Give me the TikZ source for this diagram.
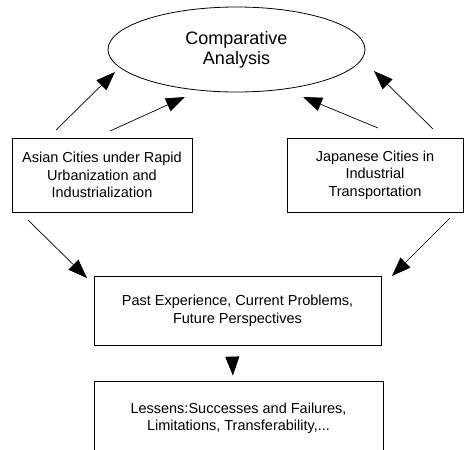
\documentclass[tikz,border=0pt]{standalone}
\usepackage{fontspec}
\setmainfont{Liberation Sans}
\usetikzlibrary{arrows.meta,shapes.geometric}
\begin{document}
\begin{tikzpicture}[x=1pt, y=-1pt,
		box/.style = {draw, line width=0.8pt, minimum height=74pt, inner sep=0pt, align=center, font=\fontsize{14.5}{17.5}\selectfont},
		oval/.style = {draw, ellipse, line width=0.8pt, minimum width=257pt, minimum height=85pt, inner sep=0pt, align=center, font=\fontsize{18}{20}\selectfont},
		arr/.style = {line width=0.7pt, -{Triangle[length=19pt, width=14pt]}}]
			\useasboundingbox (0,0) rectangle (464,450);
			\node[oval] (comp) at (236.5,49.5) {Comparative\\Analysis};
			\node[box, minimum width=180pt] (asian) at (102,175) {Asian Cities under Rapid\\Urbanization and\\Industrialization};
			\node[box, minimum width=176pt] (japan) at (375,175) {Japanese Cities in\\Industrial\\Transportation};
			\node[box, minimum width=287pt, minimum height=69pt] (past) at (237.5,310.5) {Past Experience, Current Problems,\\Future Perspectives};
			\node[box, minimum width=289pt] (lessons) at (238.5,418) {Lessens:Successes and Failures,\\Limitations, Transferability,...};
			\coordinate (a1) at (56,130);
			\coordinate (b1) at (115,72);
			\coordinate (a2) at (110,131);
			\coordinate (b2) at (185,97);
			\coordinate (a3) at (378,128);
			\coordinate (b3) at (303,97);
			\coordinate (a4) at (433,129);
			\coordinate (b4) at (374,71);
			\coordinate (a5) at (28,220);
			\coordinate (b5) at (87,278);
			\coordinate (a6) at (450,218);
			\coordinate (b6) at (392,276);
			\draw[arr] (a1) -- (b1);
			\draw[arr] (a2) -- (b2);
			\draw[arr] (a3) -- (b3);
			\draw[arr] (a4) -- (b4);
			\draw[arr] (a5) -- (b5);
			\draw[arr] (a6) -- (b6);
			\draw[line width=0.7pt, -{Triangle[length=19pt, width=14pt]}, shorten <=12pt, shorten >=5pt] ([xshift=-5.5pt]past.south) -- ([xshift=-5.5pt]lessons.north);
		\end{tikzpicture}
\end{document}
